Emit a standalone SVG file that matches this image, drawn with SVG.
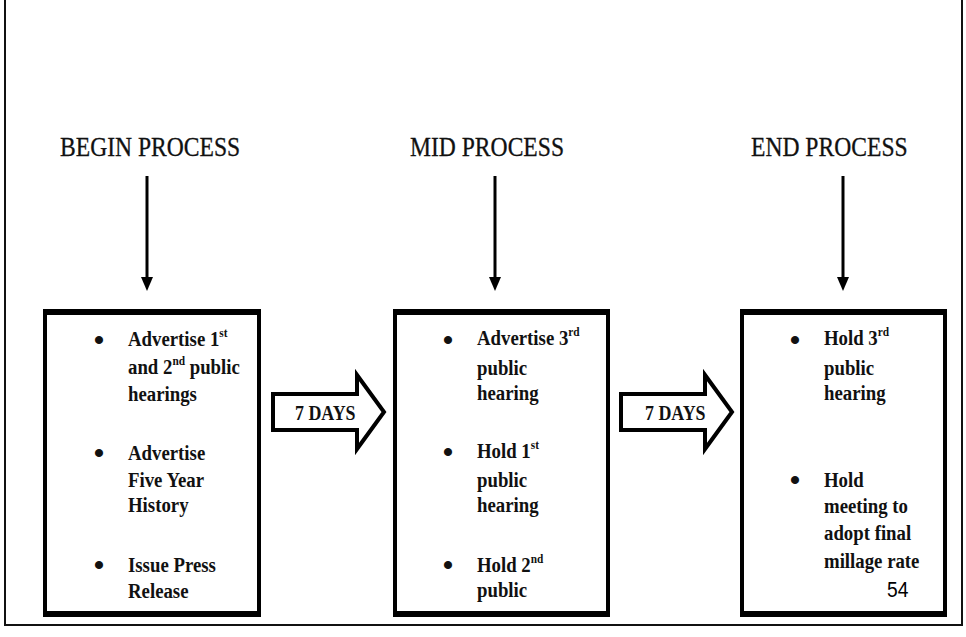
<svg xmlns="http://www.w3.org/2000/svg" width="966" height="637" viewBox="0 0 966 637">
<style>
.frame{fill:none;stroke:#111;stroke-width:2}
.outer{fill:#000}
.inner{fill:#fff}
.h{font-family:"Liberation Serif","Times New Roman",serif;font-size:27px;fill:#111;stroke:#111;stroke-width:0.3}
.b{font-family:"Liberation Serif","Times New Roman",serif;font-size:21.5px;font-weight:bold;fill:#111}
.sup{font-size:13px}
.bul{font-family:"Liberation Serif","Times New Roman",serif;font-size:30px;font-weight:bold;fill:#111;text-anchor:middle}
.conn{stroke:#000;stroke-width:3;fill:none}
.block{fill:#fff;stroke:#000;stroke-width:4;stroke-linejoin:miter}
.days{font-family:"Liberation Serif","Times New Roman",serif;font-size:20.5px;font-weight:bold;fill:#111}
.pg{font-family:"Liberation Sans",Arial,sans-serif;font-size:22px;fill:#000}
</style>
<defs>
<marker id="ah" markerWidth="14" markerHeight="12" refX="1" refY="6" orient="auto" markerUnits="userSpaceOnUse" viewBox="0 0 14 12">
<path d="M0,0 L14,6 L0,12 Z" fill="#000"/>
</marker>
</defs>
<rect width="966" height="637" fill="#fff"/>
<path class="frame" d="M5,0 V625 H962 V0"/>

<g id="heading-begin"><text class="h" transform="translate(60 0) scale(0.874 1)" x="0" y="156">BEGIN PROCESS</text></g>
<g id="heading-mid"><text class="h" transform="translate(410 0) scale(0.874 1)" x="0" y="156">MID PROCESS</text></g>
<g id="heading-end"><text class="h" transform="translate(751 0) scale(0.874 1)" x="0" y="156">END PROCESS</text></g>

<g id="box-begin">
<rect class="outer" x="43" y="309" width="218" height="308"/>
<rect class="inner" x="47" y="315" width="210" height="296"/>
<text class="bul" x="99" y="350">•</text>
<text class="bul" x="99" y="463">•</text>
<text class="bul" x="99" y="575">•</text>
<text class="b" transform="translate(128 0) scale(0.874 1)">
<tspan x="0" y="346">Advertise 1</tspan><tspan class="sup" y="337">st</tspan>
<tspan x="0" y="374">and 2</tspan><tspan class="sup" y="365">nd</tspan><tspan y="374"> public</tspan>
<tspan x="0" y="401">hearings</tspan>
<tspan x="0" y="460">Advertise</tspan>
<tspan x="0" y="487">Five Year</tspan>
<tspan x="0" y="512">History</tspan>
<tspan x="0" y="572">Issue Press</tspan>
<tspan x="0" y="598">Release</tspan>
</text>
</g>

<g id="box-mid">
<rect class="outer" x="393" y="309" width="217" height="308"/>
<rect class="inner" x="397" y="315" width="209" height="296"/>
<text class="bul" x="448" y="350">•</text>
<text class="bul" x="448" y="462">•</text>
<text class="bul" x="448" y="575">•</text>
<text class="b" transform="translate(477 0) scale(0.874 1)">
<tspan x="0" y="345">Advertise 3</tspan><tspan class="sup" y="336">rd</tspan>
<tspan x="0" y="375">public</tspan>
<tspan x="0" y="400">hearing</tspan>
<tspan x="0" y="458">Hold 1</tspan><tspan class="sup" y="449">st</tspan>
<tspan x="0" y="487">public</tspan>
<tspan x="0" y="512">hearing</tspan>
<tspan x="0" y="572">Hold 2</tspan><tspan class="sup" y="563">nd</tspan>
<tspan x="0" y="597">public</tspan>
</text>
</g>

<g id="box-end">
<rect class="outer" x="740" y="309" width="207" height="308"/>
<rect class="inner" x="744" y="315" width="199" height="296"/>
<text class="bul" x="795" y="350">•</text>
<text class="bul" x="795" y="490">•</text>
<text class="b" transform="translate(824 0) scale(0.874 1)">
<tspan x="0" y="345">Hold 3</tspan><tspan class="sup" y="336">rd</tspan>
<tspan x="0" y="375">public</tspan>
<tspan x="0" y="400">hearing</tspan>
<tspan x="0" y="487">Hold</tspan>
<tspan x="0" y="513">meeting to</tspan>
<tspan x="0" y="540">adopt final</tspan>
<tspan x="0" y="568">millage rate</tspan>
</text>
<text class="pg" transform="translate(887 0) scale(0.874 1)" x="0" y="597">54</text>
</g>

<g id="connectors">
<line class="conn" x1="147" y1="176" x2="147" y2="278" marker-end="url(#ah)"/>
<line class="conn" x1="495" y1="176" x2="495" y2="278" marker-end="url(#ah)"/>
<line class="conn" x1="843" y1="176" x2="843" y2="278" marker-end="url(#ah)"/>
<g id="arrow-7days-1">
<path class="block" d="M273,394 H357 V375 L384,412 L357,449 V430 H273 Z"/>
<text class="days" transform="translate(295 0) scale(0.874 1)" x="0" y="420">7 DAYS</text>
</g>
<g id="arrow-7days-2">
<path class="block" d="M621,394 H705 V375 L732,412 L705,449 V430 H621 Z"/>
<text class="days" transform="translate(645 0) scale(0.874 1)" x="0" y="420">7 DAYS</text>
</g>
</g>
</svg>
